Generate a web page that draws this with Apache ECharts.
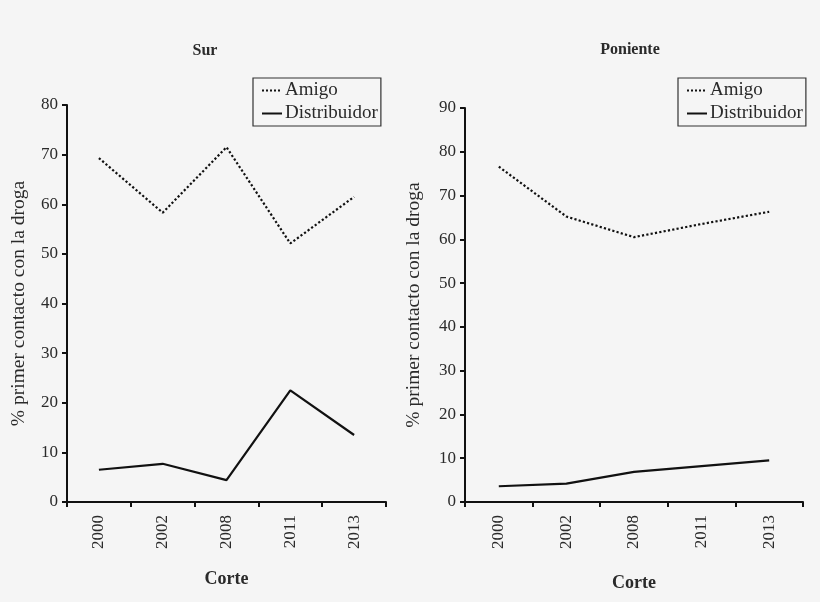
<!DOCTYPE html>
<html>
<head>
<meta charset="utf-8">
<script src="https://cdn.jsdelivr.net/npm/echarts@6/dist/echarts.min.js"></script>
<style>
html,body{margin:0;padding:0;background:#f5f5f5;}
#c{width:820px;height:602px;}
</style>
</head>
<body>
<div id="c"></div>
<script>
const categories = ['2000','2002','2008','2011','2013'];
const surAmigo = [69.3, 58.3, 71.5, 52.1, 61.5];
const surDistribuidor = [6.5, 7.7, 4.4, 22.5, 13.5];
const ponienteAmigo = [76.6, 65.2, 60.5, 63.5, 66.3];
const ponienteDistribuidor = [3.6, 4.2, 6.9, 8.2, 9.5];
const titles = ['Sur', 'Poniente'];
const yName = '% primer contacto con la droga';
const xName = 'Corte';

const FONT = '"Liberation Serif", "DejaVu Serif", serif';
const TXT = '#2a2a2a';

function xAxis(gridIndex, gap) {
  return {
    type: 'category', gridIndex, data: categories, boundaryGap: true,
    name: xName, nameLocation: 'middle', nameGap: gap,
    nameTextStyle: {fontFamily: FONT, fontWeight: 'bold', fontSize: 18, color: TXT},
    axisLine: {lineStyle: {color: '#111', width: 2}},
    axisTick: {show: true, length: 5, lineStyle: {color: '#111', width: 2}, alignWithLabel: false},
    axisLabel: {rotate: 90, margin: 13, fontFamily: FONT, fontSize: 17, color: TXT},
    splitLine: {show: false}
  };
}
function yAxis(gridIndex, max, gap) {
  return {
    type: 'value', gridIndex, min: 0, max, interval: 10,
    name: yName, nameLocation: 'middle', nameRotate: 90, nameGap: gap,
    nameTextStyle: {fontFamily: FONT, fontSize: 19.5, color: TXT},
    axisLine: {show: true, lineStyle: {color: '#111', width: 2}},
    axisTick: {show: true, length: 5, lineStyle: {color: '#111', width: 2}},
    axisLabel: {margin: 9, fontFamily: FONT, fontSize: 17, color: TXT},
    splitLine: {show: false}
  };
}
function ser(name, data, idx, dotted) {
  return {
    type: 'line', name, data, xAxisIndex: idx, yAxisIndex: idx,
    symbol: 'none', showSymbol: false, smooth: false,
    lineStyle: {color: '#111', width: 2.2, type: dotted ? 'dotted' : 'solid'},
    itemStyle: {color: '#111'}
  };
}
function legend(left, top) {
  return {
    left, top, orient: 'vertical', data: ['Amigo', 'Distribuidor'],
    itemWidth: 20, itemHeight: 12, itemGap: 4,
    padding: [3, 3, 3, 8],
    itemStyle: {opacity: 0},
    borderColor: '#333', borderWidth: 1.2, backgroundColor: '#f5f5f5',
    textStyle: {fontFamily: FONT, fontSize: 19, color: TXT, padding: [0, 0, 0, -2]},
    selectedMode: false
  };
}

const chart = echarts.init(document.getElementById('c'));
chart.setOption({
  backgroundColor: '#f5f5f5',
  animation: false,
  title: [
    {text: titles[0], left: 200, top: 38, textAlign: 'center',
     textStyle: {fontFamily: FONT, fontWeight: 'bold', fontSize: 16, color: TXT}},
    {text: titles[1], left: 625, top: 37, textAlign: 'center',
     textStyle: {fontFamily: FONT, fontWeight: 'bold', fontSize: 16, color: TXT}}
  ],
  legend: [legend(253, 78), legend(678, 78)],
  grid: [
    {left: 67, top: 105, width: 319, height: 397, containLabel: false},
    {left: 465, top: 108, width: 338, height: 394, containLabel: false}
  ],
  xAxis: [xAxis(0, 68), xAxis(1, 72)],
  yAxis: [yAxis(0, 80, 38), yAxis(1, 90, 41)],
  series: [
    ser('Amigo', surAmigo, 0, true),
    ser('Distribuidor', surDistribuidor, 0, false),
    ser('Amigo', ponienteAmigo, 1, true),
    ser('Distribuidor', ponienteDistribuidor, 1, false)
  ]
});
</script>
</body>
</html>
